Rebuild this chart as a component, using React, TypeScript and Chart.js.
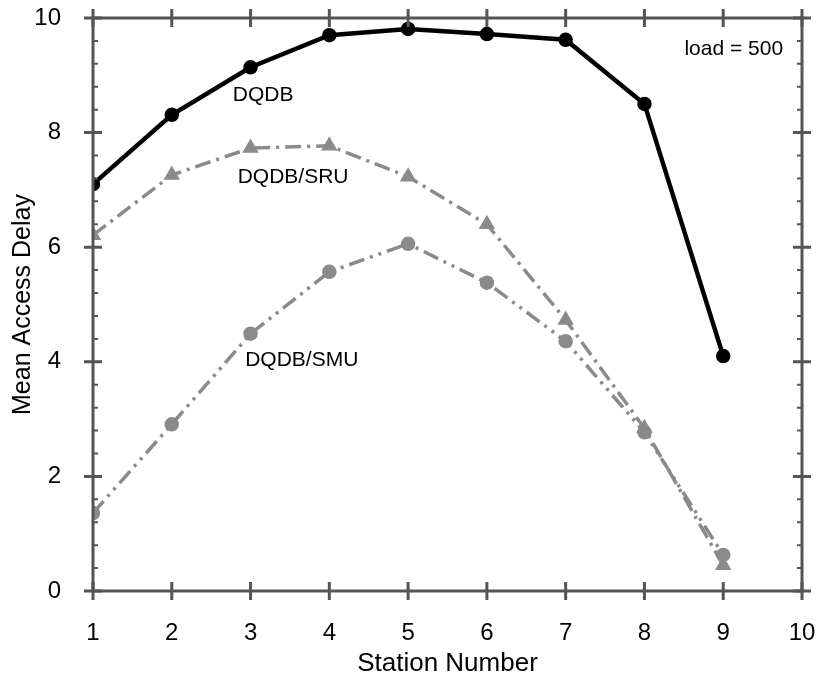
import React, { useEffect, useRef } from "react";
import { Chart, registerables } from "chart.js";

Chart.register(...registerables);

const stations = [1, 2, 3, 4, 5, 6, 7, 8, 9];
const dqdb = [7.1, 8.31, 9.14, 9.7, 9.81, 9.72, 9.62, 8.5, 4.1];
const dqdbSru = [6.21, 7.26, 7.73, 7.77, 7.23, 6.4, 4.73, 2.84, 0.45];
const dqdbSmu = [1.36, 2.91, 4.49, 5.57, 6.06, 5.38, 4.36, 2.77, 0.63];
const xTicks = [1, 2, 3, 4, 5, 6, 7, 8, 9, 10];
const yTicks = [0, 2, 4, 6, 8, 10];
const seriesLabels = [
  { text: "DQDB", x: 3.16, y: 8.66 },
  { text: "DQDB/SRU", x: 3.54, y: 7.23 },
  { text: "DQDB/SMU", x: 3.65, y: 4.03 },
];
const noteText = "load = 500";

const FONT = "'Liberation Sans', Arial, Helvetica, sans-serif";
const FRAME = "#555555";
const GRAY = "#8a8a8a";

const framePlugin = {
  id: "frameTicks",
  afterDatasetsDraw(chart: any) {
    const { ctx, chartArea, scales } = chart;
    const { left, right, top, bottom } = chartArea;
    const xs = scales.x;
    const ys = scales.y;
    ctx.save();
    ctx.strokeStyle = FRAME;
    ctx.lineWidth = 3;
    ctx.strokeRect(left, top, right - left, bottom - top);
    for (const v of xTicks) {
      const px = xs.getPixelForValue(v);
      ctx.beginPath();
      ctx.moveTo(px, bottom - 9);
      ctx.lineTo(px, bottom + 9);
      ctx.moveTo(px, top - 9);
      ctx.lineTo(px, top + 9);
      ctx.stroke();
    }
    for (const v of yTicks) {
      const py = ys.getPixelForValue(v);
      ctx.beginPath();
      ctx.moveTo(left - 9, py);
      ctx.lineTo(left + 9, py);
      ctx.moveTo(right - 9, py);
      ctx.lineTo(right + 9, py);
      ctx.stroke();
    }
    ctx.lineWidth = 2;
    for (let i = 0; i <= 25; i++) {
      const v = i * 0.4;
      if (Math.abs(v / 2 - Math.round(v / 2)) < 1e-6) continue;
      const py = ys.getPixelForValue(v);
      ctx.beginPath();
      ctx.moveTo(left, py);
      ctx.lineTo(left + 5, py);
      ctx.moveTo(right, py);
      ctx.lineTo(right - 5, py);
      ctx.stroke();
    }
    ctx.fillStyle = "#000";
    ctx.font = `21px ${FONT}`;
    ctx.textBaseline = "middle";
    ctx.textAlign = "center";
    for (const l of seriesLabels) {
      ctx.fillText(l.text, xs.getPixelForValue(l.x), ys.getPixelForValue(l.y));
    }
    ctx.textAlign = "right";
    ctx.fillText(noteText, xs.getPixelForValue(9.76), ys.getPixelForValue(9.46));
    ctx.restore();
  },
};

export default function App() {
  const ref = useRef<HTMLCanvasElement | null>(null);
  useEffect(() => {
    if (!ref.current) return;
    const chart = new Chart(ref.current, {
      type: "line",
      data: {
        datasets: [
          {
            label: "DQDB",
            data: stations.map((s, i) => ({ x: s, y: dqdb[i] })),
            borderColor: "#000",
            backgroundColor: "#000",
            borderWidth: 4.5,
            pointStyle: "circle",
            pointRadius: 5,
          },
          {
            label: "DQDB/SRU",
            data: stations.map((s, i) => ({ x: s, y: dqdbSru[i] })),
            borderColor: GRAY,
            backgroundColor: GRAY,
            borderWidth: 3.5,
            borderDash: [16, 6, 3, 6],
            pointStyle: "triangle",
            pointRadius: 6,
          },
          {
            label: "DQDB/SMU",
            data: stations.map((s, i) => ({ x: s, y: dqdbSmu[i] })),
            borderColor: GRAY,
            backgroundColor: GRAY,
            borderWidth: 3.5,
            borderDash: [16, 6, 3, 6, 3, 6],
            pointStyle: "circle",
            pointRadius: 5.5,
          },
        ],
      },
      options: {
        animation: false,
        responsive: false,
        layout: { padding: { top: 18, right: 15, left: 0, bottom: 0 } },
        plugins: { legend: { display: false }, tooltip: { enabled: false } },
        scales: {
          x: {
            type: "linear",
            min: 1,
            max: 10,
            grid: { display: false },
            border: { display: false },
            afterFit: (s: any) => {
              s.height = 95;
              s.paddingLeft = 0;
              s.paddingRight = 0;
            },
            afterBuildTicks: (s: any) => {
              s.ticks = xTicks.map((v) => ({ value: v }));
            },
            ticks: {
              color: "#000",
              font: { family: FONT, size: 24 },
              padding: 20,
              maxRotation: 0,
            },
            title: {
              display: true,
              text: "Station Number",
              color: "#000",
              font: { family: FONT, size: 26 },
              padding: { top: 0, bottom: 7 },
            },
          },
          y: {
            type: "linear",
            min: 0,
            max: 10,
            grid: { display: false },
            border: { display: false },
            afterFit: (s: any) => {
              s.width = 93;
              s.paddingTop = 0;
              s.paddingBottom = 0;
            },
            afterBuildTicks: (s: any) => {
              s.ticks = yTicks.map((v) => ({ value: v }));
            },
            ticks: {
              color: "#000",
              font: { family: FONT, size: 24 },
              padding: 24,
            },
            title: {
              display: true,
              text: "Mean Access Delay",
              color: "#000",
              font: { family: FONT, size: 25 },
              padding: { top: 8, bottom: 0 },
            },
          },
        },
      },
      plugins: [framePlugin],
    });
    return () => chart.destroy();
  }, []);
  return (
    <div style={{ position: "fixed", left: 0, top: 0, width: 817, height: 686, background: "#fff" }}>
      <canvas ref={ref} width={817} height={686} />
    </div>
  );
}
